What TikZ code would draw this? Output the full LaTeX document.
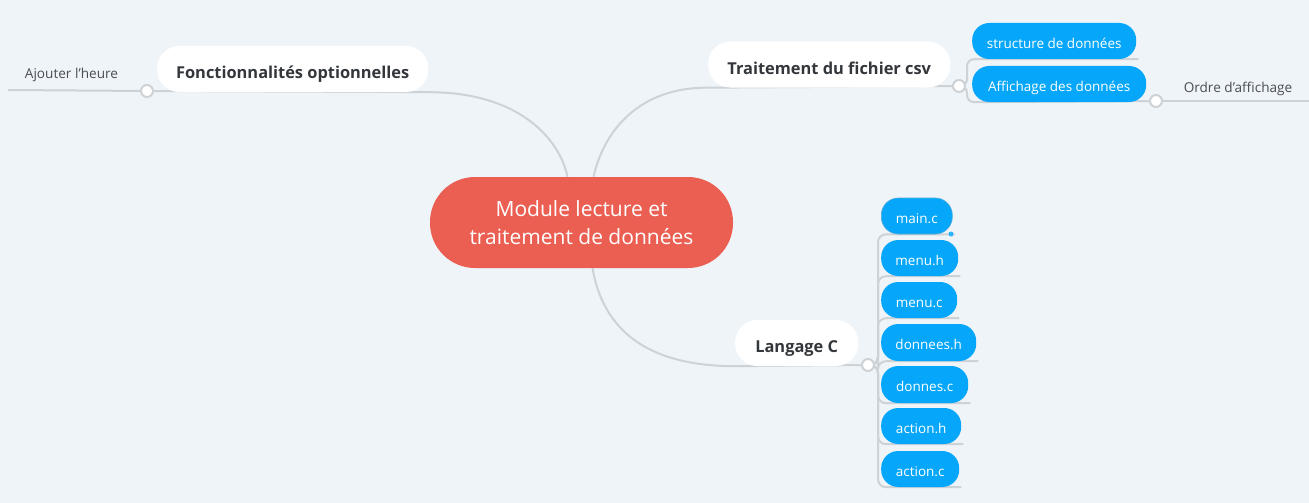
\documentclass[tikz,border=0pt]{standalone}
\usepackage{fontspec}
\setmainfont{Open Sans}
\definecolor{bgc}{HTML}{EFF4F8}
\definecolor{redc}{HTML}{EB5F53}
\definecolor{bluec}{HTML}{06A7FA}
\definecolor{linec}{HTML}{CDD2D6}
\definecolor{darkt}{HTML}{33373B}
\definecolor{greyt}{HTML}{4A4E52}
\pgfdeclarelayer{bg}
\pgfdeclarelayer{canvas}
\pgfsetlayers{canvas,bg,main}
\tikzset{
  central/.style={fill=redc, draw=none, rounded corners=45pt, minimum width=303pt, minimum height=91pt,
    text=white, font=\fontsize{21}{28.5}\selectfont, align=center, inner sep=0pt},
  topic/.style={fill=white, draw=none, rounded corners=22pt, minimum height=46pt,
    text=darkt, font=\fontsize{16.4}{19}\selectfont\bfseries, inner sep=0pt, anchor=west,
    text height=23pt, text depth=3.9pt},
  sub/.style={fill=bluec, draw=none, rounded corners=17pt, minimum height=36pt,
    text=white, font=\fontsize{13.5}{16}\selectfont, inner sep=0pt, anchor=west,
    text height=17.5pt, text depth=3.2pt},
  plainlbl/.style={text=greyt, font=\fontsize{13.6}{16}\selectfont, inner sep=0pt},
  dot/.style={circle, fill=white, draw=linec, line width=2pt, minimum size=12pt, inner sep=0pt},
  conn/.style={draw=linec, line width=2pt},
}
\begin{document}
\begin{tikzpicture}[x=1pt,y=-1pt]
\useasboundingbox (0,0) rectangle (1309,503);
\begin{pgfonlayer}{canvas}
\fill[bgc] (0,0) rectangle (1309,503);
\end{pgfonlayer}

% nodes
\node[central] (ctr) at (581.5,222.5) {Module lecture et\\traitement de données};
\node[topic, minimum width=271pt] (fonc) at (157,69) {Fonctionnalités optionnelles};
\node[topic, minimum width=242pt] (trait) at (708,64.5) {Traitement du fichier csv};
\node[topic, minimum width=123pt] (lang) at (735,343) {Langage C};

\node[sub, minimum width=164pt] (struct) at (972,41) {structure de données};
\node[sub, minimum width=174pt] (affich) at (972,84) {Affichage des données};

\node[sub, minimum width=71pt, draw=bluec!80!black!70, line width=0.6pt] (mainc) at (881,216) {main.c};
\node[sub, minimum width=77pt] (menuh) at (881,258) {menu.h};
\node[sub, minimum width=76pt] (menuc) at (881,300) {menu.c};
\node[sub, minimum width=95pt, minimum height=37pt] (donh) at (881,342.5) {donnees.h};
\node[sub, minimum width=87pt, minimum height=37pt] (donc) at (881,384.5) {donnes.c};
\node[sub, minimum width=80pt] (acth) at (881,426) {action.h};
\node[sub, minimum width=78pt] (actc) at (881,469) {action.c};

\node[plainlbl] (ajout) at (71.5,74.5) {Ajouter l'heure};
\node[plainlbl] (ordre) at (1238,88.5) {Ordre d'affichage};

\node[dot] (fdot) at (147,91) {};
\node[dot] (tdot) at (959,86) {};
\node[dot] (adot) at (1156,101) {};
\node[dot] (ldot) at (868,365) {};
\node[circle, fill=bluec!85, inner sep=0pt, minimum size=5pt] (seldot) at (951,234) {};

\coordinate (ajend) at (8,90);
\coordinate (ordend) at (1309,101);

\begin{pgfonlayer}{bg}
% main branches
\draw[conn] ([xshift=-14pt]ctr.north) .. controls (560,140) and (520,92) .. (fonc.south east) -- (fdot);
\draw[conn] (fdot) -- (ajend);
\draw[conn] ([xshift=12pt]ctr.north) .. controls (604,130) and (640,87) .. (trait.south west) -- (tdot);
\draw[conn] ([xshift=11pt]ctr.south) .. controls (605,340) and (660,366) .. (lang.south west) -- (ldot);

% traitement children
\draw[conn, rounded corners=7pt] (tdot.center) -| ([xshift=-5pt]struct.south west) -- ([xshift=2pt]struct.south east);
\draw[conn, rounded corners=7pt] (tdot.center) -| ([xshift=-5pt]affich.south west) -- (adot);
\draw[conn] (adot) -- (ordend);

% langage children
\foreach \n in {mainc,menuh,menuc,donh,donc,acth,actc}{
  \draw[conn, rounded corners=8pt] (ldot.center) -| ([xshift=-3pt]\n.south west) -- ([xshift=2pt]\n.south east);
}
\end{pgfonlayer}
\end{tikzpicture}
\end{document}
